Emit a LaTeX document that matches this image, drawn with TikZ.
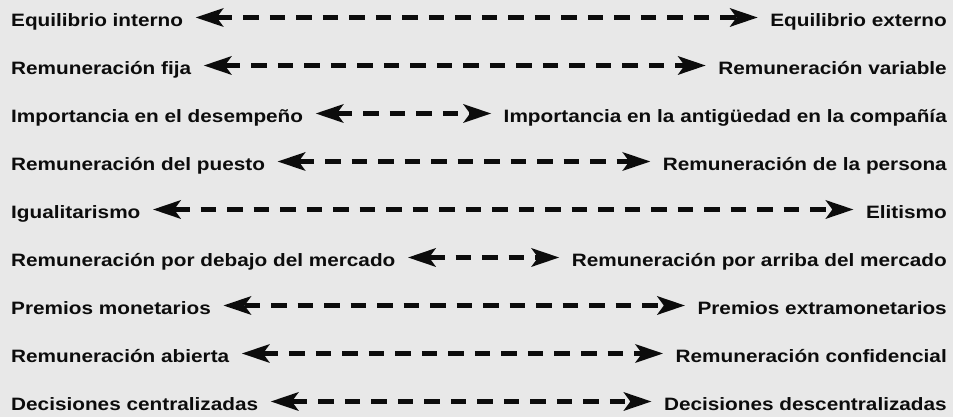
\documentclass[tikz,border=0pt]{standalone}
\usepackage{fontspec}
\newfontfamily\lab[FakeStretch=1.16]{Liberation Sans Bold}
\usetikzlibrary{arrows.meta}
\definecolor{bg}{RGB}{232,232,232}
\definecolor{ink}{RGB}{12,12,12}
\begin{document}
\begin{tikzpicture}[x=1pt,y=1pt,
  lbl/.style={inner sep=0pt, text height=19pt, text depth=0pt, text=ink,
    font=\lab\fontsize{17.9}{20}\selectfont},
  lft/.style={lbl, anchor=base west},
  rgt/.style={lbl, anchor=base east},
  dbl/.style={draw=ink, line width=4.5pt, dash pattern=on 15.5pt off 11pt,
    {Stealth[length=28pt,width=19pt,inset=7pt,line width=0pt]}-{Stealth[length=28pt,width=19pt,inset=7pt,line width=0pt]},
    shorten <=12.5pt, shorten >=12.5pt}]
\useasboundingbox (0,0) rectangle (953,417);
\fill[bg] (0,0) rectangle (953,417);
\foreach \i/\a/\b in {
  0/Equilibrio interno/Equilibrio externo,
  1/Remuneración fija/Remuneración variable,
  2/Importancia en el desempeño/Importancia en la antigüedad en la compañía,
  3/Remuneración del puesto/Remuneración de la persona,
  4/Igualitarismo/Elitismo,
  5/Remuneración por debajo del mercado/Remuneración por arriba del mercado,
  6/Premios monetarios/Premios extramonetarios,
  7/Remuneración abierta/Remuneración confidencial,
  8/Decisiones centralizadas/Decisiones descentralizadas}{
  \node[lft] (l\i) at (11, 390-48*\i) {\a};
  \node[rgt] (r\i) at (947, 390-48*\i) {\b};
  \draw[dbl] (l\i.east) -- (r\i.west);
}
\end{tikzpicture}
\end{document}
